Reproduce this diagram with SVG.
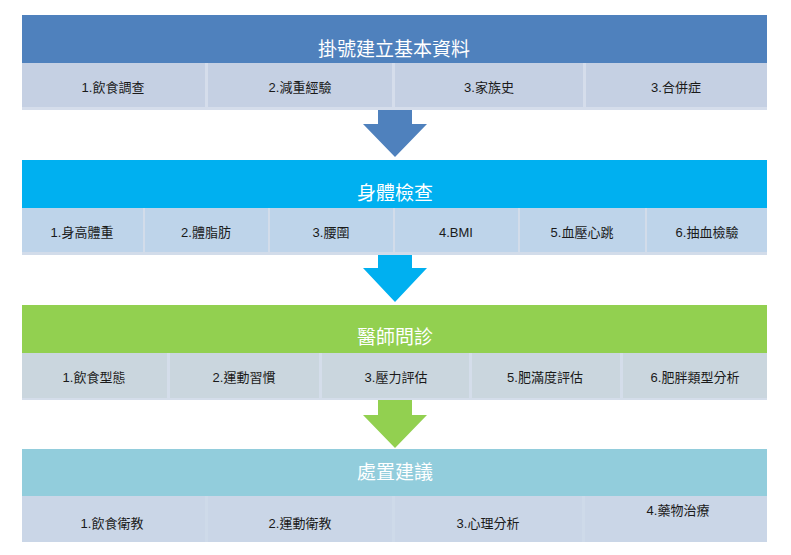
<svg xmlns="http://www.w3.org/2000/svg" width="791" height="555" viewBox="0 0 791 555">
<style>
.title{font-family:"Liberation Sans","Noto Sans CJK TC",sans-serif;font-size:19px;fill:#ffffff;text-anchor:middle}
.item{font-family:"Liberation Sans","Noto Sans CJK TC",sans-serif;font-size:13px;fill:#1a1a1a;text-anchor:middle}
</style>
<rect width="791" height="555" fill="#ffffff"/>

<g id="node-registration">
<rect x="22" y="15" width="745" height="48" fill="#4F81BD"/>
<rect x="22" y="63" width="745" height="47" fill="#D5DDEB"/>
<g fill="#C5D0E3">
<rect x="22" y="63" width="183" height="44"/>
<rect x="208" y="63" width="184" height="44"/>
<rect x="395" y="63" width="188" height="44"/>
<rect x="586" y="63" width="181" height="44"/>
</g>
<text class="title" x="394" y="56">掛號建立基本資料</text>
<text class="item" x="113" y="92">1.飲食調查</text>
<text class="item" x="300" y="92">2.減重經驗</text>
<text class="item" x="489" y="92">3.家族史</text>
<text class="item" x="676" y="92">3.合併症</text>
</g>

<g id="node-physical">
<rect x="22" y="160" width="745" height="48" fill="#00B0F0"/>
<rect x="22" y="208" width="745" height="47" fill="#D2DCEA"/>
<g fill="#BED4EA">
<rect x="22" y="208" width="121" height="44"/>
<rect x="145" y="208" width="123" height="44"/>
<rect x="270" y="208" width="123" height="44"/>
<rect x="395" y="208" width="123" height="44"/>
<rect x="520" y="208" width="125" height="44"/>
<rect x="647" y="208" width="120" height="44"/>
</g>
<text class="title" x="395" y="200">身體檢查</text>
<text class="item" x="82" y="237">1.身高體重</text>
<text class="item" x="206" y="237">2.體脂肪</text>
<text class="item" x="331" y="237">3.腰圍</text>
<text class="item" x="456" y="237">4.BMI</text>
<text class="item" x="582" y="237">5.血壓心跳</text>
<text class="item" x="707" y="237">6.抽血檢驗</text>
</g>

<g id="node-doctor">
<rect x="22" y="305" width="745" height="48" fill="#92D050"/>
<rect x="22" y="353" width="745" height="47" fill="#D4DDEA"/>
<g fill="#CAD6DE">
<rect x="22" y="353" width="145" height="45"/>
<rect x="170" y="353" width="149" height="45"/>
<rect x="322" y="353" width="147" height="45"/>
<rect x="472" y="353" width="148" height="45"/>
<rect x="623" y="353" width="144" height="45"/>
</g>
<text class="title" x="395" y="344">醫師問診</text>
<text class="item" x="94" y="382">1.飲食型態</text>
<text class="item" x="244" y="382">2.運動習慣</text>
<text class="item" x="396" y="382">3.壓力評估</text>
<text class="item" x="545" y="382">5.肥滿度評估</text>
<text class="item" x="695" y="382">6.肥胖類型分析</text>
</g>

<g id="node-treatment">
<rect x="22" y="449" width="745" height="47" fill="#92CDDC"/>
<rect x="22" y="496" width="745" height="46" fill="#CEDAE9"/>
<g fill="#CAD6E7">
<rect x="22" y="496" width="183" height="46"/>
<rect x="208" y="496" width="184" height="46"/>
<rect x="395" y="496" width="187" height="46"/>
<rect x="585" y="496" width="182" height="46"/>
</g>
<text class="title" x="395" y="479">處置建議</text>
<text class="item" x="112" y="528">1.飲食衛教</text>
<text class="item" x="300" y="528">2.運動衛教</text>
<text class="item" x="488" y="528">3.心理分析</text>
<text class="item" x="678" y="515">4.藥物治療</text>
</g>

<g id="connectors">
<polygon points="378,110 412,110 412,124 427,124 395,157 363,124 378,124" fill="#4F81BD"/>
<polygon points="378,255 412,255 412,268 427,268 395,302 363,268 378,268" fill="#00B0F0"/>
<polygon points="378,400 412,400 412,415 427,415 395,448 363,415 378,415" fill="#92D050"/>
</g>
</svg>
